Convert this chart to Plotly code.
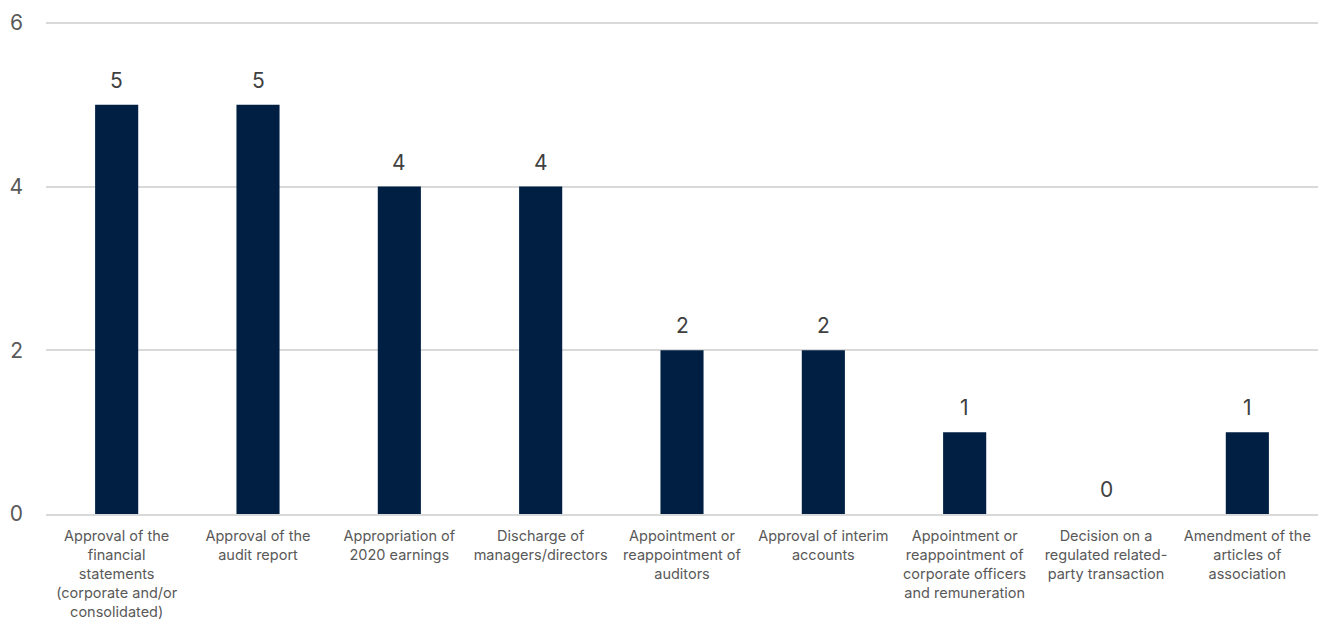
import plotly.graph_objects as go

categories = [
    "Approval of the<br>financial<br>statements<br>(corporate and/or<br>consolidated)",
    "Approval of the<br>audit report",
    "Appropriation of<br>2020 earnings",
    "Discharge of<br>managers/directors",
    "Appointment or<br>reappointment of<br>auditors",
    "Approval of interim<br>accounts",
    "Appointment or<br>reappointment of<br>corporate officers<br>and remuneration",
    "Decision on a<br>regulated related-<br>party transaction",
    "Amendment of the<br>articles of<br>association",
]
values = [5, 5, 4, 4, 2, 2, 1, 0, 1]
y_ticks = [0, 2, 4, 6]

FONT = "Inter, 'Open Sans', sans-serif"

fig = go.Figure()
fig.add_trace(go.Bar(
    x=categories, y=values,
    marker=dict(color="#001f42", line=dict(width=0)),
    width=0.305,
    hoverinfo="x+y",
))
for c, v in zip(categories, values):
    fig.add_annotation(x=c, y=v, text=str(v), showarrow=False,
                       yanchor="bottom", yshift=10,
                       font=dict(family=FONT, size=21, color="#404040"))

fig.update_layout(
    width=1320, height=615,
    margin=dict(l=38, r=10, t=10, b=109),
    plot_bgcolor="white", paper_bgcolor="white",
    showlegend=False,
    font=dict(family=FONT),
    xaxis=dict(
        showgrid=False, showline=True, linecolor="#d9d9d9", linewidth=2,
        tickfont=dict(family=FONT, size=14.5, color="#595959"),
        ticks="", tickangle=0, ticklabelstandoff=8, automargin=False,
    ),
    yaxis=dict(
        range=[0, 6.06], tickvals=y_ticks,
        showgrid=True, gridcolor="#d9d9d9", gridwidth=2,
        zeroline=False, showline=False,
        tickfont=dict(family=FONT, size=21, color="#595959"),
        ticks="", ticklabelstandoff=22, automargin=False,
    ),
)
fig.write_html("out.html")
